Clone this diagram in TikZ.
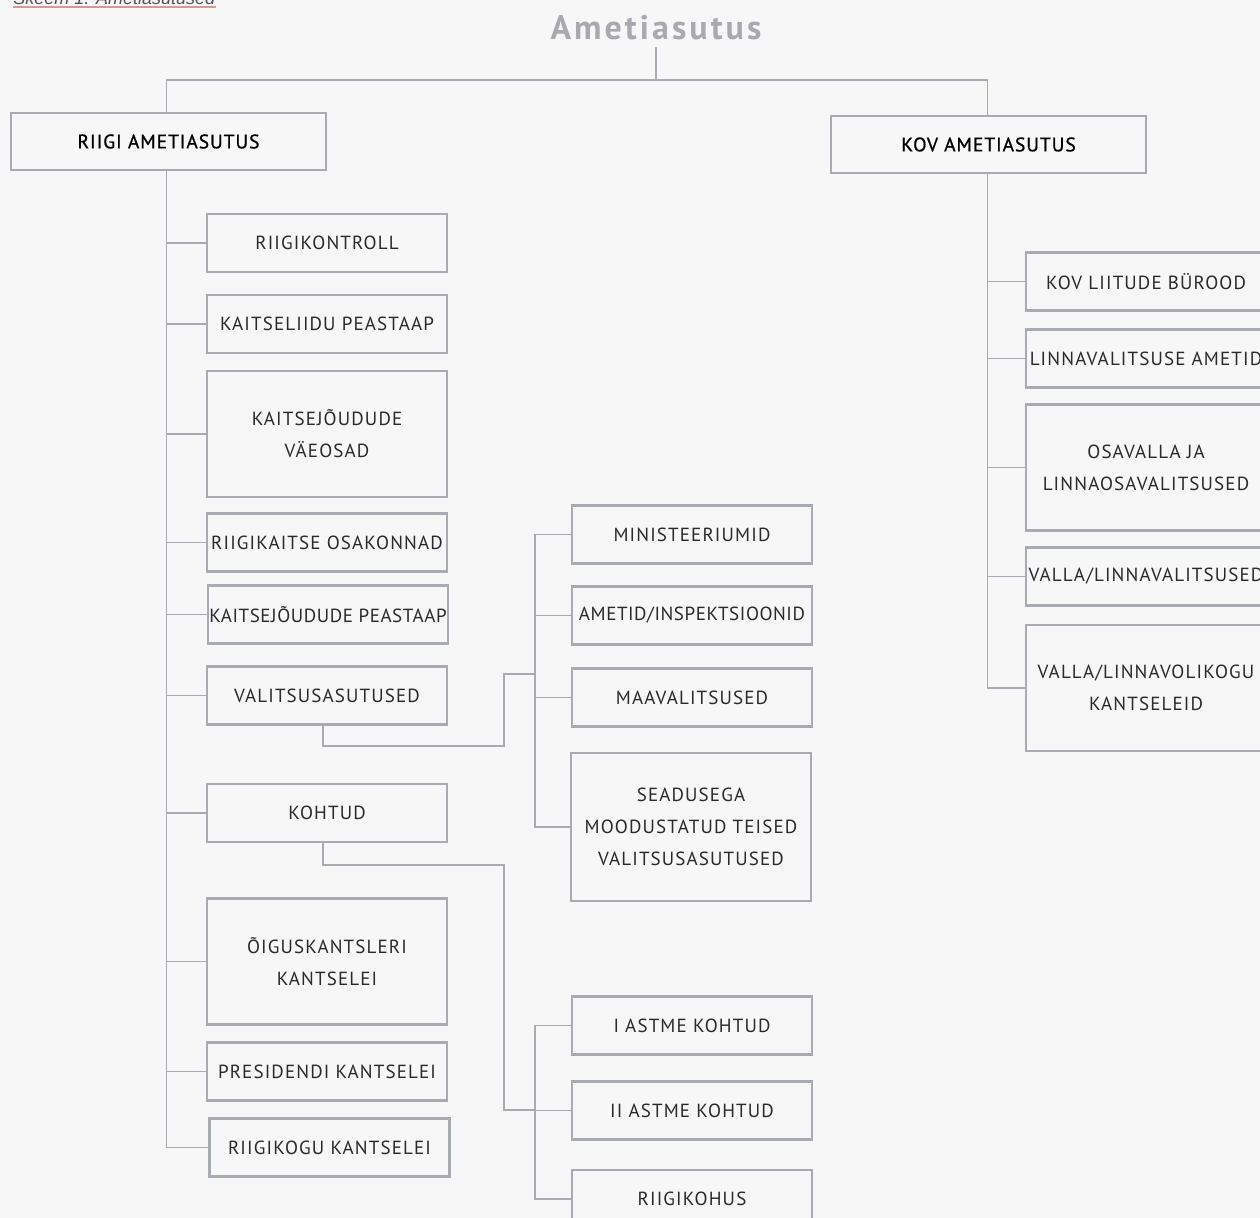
\documentclass[tikz,border=0pt]{standalone}
\usepackage{fontspec}
\setmainfont{PT Sans}
\newfontfamily\boxfont[LetterSpace=6]{PT Sans}
\newfontfamily\boxfontnarrow[LetterSpace=3]{PT Sans}
\newfontfamily\hdfont[LetterSpace=4.5,FakeBold=0.8]{PT Sans}
\newfontfamily\ttlfont[LetterSpace=9]{PT Sans Bold}
\newfontfamily\capfont{Liberation Sans}
\usetikzlibrary{positioning}
\definecolor{orgbg}{HTML}{F7F7F7}
\definecolor{orgline}{HTML}{A9ABB3}
\definecolor{orgink}{HTML}{2A2A2A}
\definecolor{orgtitle}{HTML}{A8AAB0}
\definecolor{orgred}{HTML}{D49A98}
\tikzset{
  bx/.style={draw=orgline, line width=1.3pt, fill=orgbg, minimum width=120pt, minimum height=29pt, inner sep=0pt, align=center, text=orgink, font=\boxfont\fontsize{9.5}{16}\selectfont},
  bxn/.style={bx, font=\boxfontnarrow\fontsize{9.5}{16}\selectfont},
  bxtall/.style={bx, minimum height=63pt},
  hd/.style={bx, minimum width=157.5pt, minimum height=28.5pt, text=black, font=\hdfont\fontsize{9.8}{12}\selectfont},
  ln/.style={draw=orgline, line width=0.8pt},
}

\begin{document}
\begin{tikzpicture}[x=0.5pt, y=-0.5pt]
  \path[use as bounding box, fill=orgbg] (0,0) rectangle (1260,1218);
  \clip (0,0) rectangle (1260,1218);
  % caption, cut at the top edge
  \node[anchor=base west, inner sep=0pt, text=orgink!80, font=\capfont\itshape\fontsize{9}{10}\selectfont] (cap) at (13,5) {Skeem 1. Ametiasutused};
  \draw[orgred, line width=0.8pt] ([yshift=-1pt]cap.base west) -- ([yshift=-1pt]cap.base east);
  \node[text=orgtitle, font=\ttlfont\fontsize{17}{20}\selectfont] (ttl) at (656,28) {Ametiasutus};
  \coordinate (top) at (656,80);
  % two heads
  \node[hd] (riigi) at (168.5,141.5) {RIIGI AMETIASUTUS};
  \node[hd] (kov) at (988.5,144.5) {KOV AMETIASUTUS};
  % riigi branch
  \node[bx] (rk) at (327,243) {RIIGIKONTROLL};
  \node[bx] (klp) at (327,324) {KAITSELIIDU PEASTAAP};
  \node[bxtall] (kjv) at (327,434) {KAITSEJÕUDUDE\\VÄEOSAD};
  \node[bx] (rko) at (327,542.5) {RIIGIKAITSE OSAKONNAD};
  \node[bxn] (kjp) at (328,614.5) {KAITSEJÕUDUDE PEASTAAP};
  \node[bx] (va) at (327,695.5) {VALITSUSASUTUSED};
  \node[bx] (ko) at (327,813) {KOHTUD};
  \node[bxtall] (ok) at (327,961.5) {ÕIGUSKANTSLERI\\KANTSELEI};
  \node[bx] (pk) at (327,1071.5) {PRESIDENDI KANTSELEI};
  \node[bx] (rkk) at (329.5,1147.5) {RIIGIKOGU KANTSELEI};
  % valitsusasutused
  \node[bx] (min) at (692,534.5) {MINISTEERIUMID};
  \node[bxn] (amt) at (692,615.5) {AMETID/INSPEKTSIOONID};
  \node[bx] (maa) at (692,697.5) {MAAVALITSUSED};
  \node[bx, minimum height=74pt] (sea) at (691,827) {SEADUSEGA\\MOODUSTATUD TEISED\\VALITSUSASUTUSED};
  % kohtud
  \node[bx] (ia) at (692,1025.5) {I ASTME KOHTUD};
  \node[bx] (iia) at (692,1110.5) {II ASTME KOHTUD};
  \node[bx] (rkh) at (692,1199) {RIIGIKOHUS};
  % kov branch
  \node[bx] (kl) at (1146,281.5) {KOV LIITUDE BÜROOD};
  \node[bx] (la) at (1146,358.5) {LINNAVALITSUSE AMETID};
  \node[bxtall] (ol) at (1146,467.5) {OSAVALLA JA\\LINNAOSAVALITSUSED};
  \node[bx] (vl) at (1146,576.5) {VALLA/LINNAVALITSUSED};
  \node[bxtall] (vk) at (1146,688) {VALLA/LINNAVOLIKOGU\\KANTSELEID};
  \coordinate (vaj) at (504,746);
  \coordinate (vat) at (535,674);
  \coordinate (koj) at (504,865);
  \coordinate (kot) at (535,1110);
  \draw[ln] (ttl.south) -- (top);
  \draw[ln] ([xshift=-1pt]riigi.north) |- (top) -| ([xshift=-0.5pt]kov.north);
  \foreach \n in {rk,klp,kjv,rko,kjp,va,ko,ok,pk,rkk} \draw[ln] ([xshift=-1pt]riigi.south) |- (\n.west);
  \foreach \n in {kl,la,ol,vl,vk} \draw[ln] ([xshift=-0.5pt]kov.south) |- (\n.west);
  \draw[ln] ([xshift=-2pt]va.south) |- (vaj) |- (vat);
  \foreach \n in {min,amt,maa,sea} \draw[ln] (vat) |- (\n.west);
  \draw[ln] ([xshift=-2pt]ko.south) |- (koj) |- (kot);
  \foreach \n in {ia,iia,rkh} \draw[ln] (kot) |- (\n.west);
\end{tikzpicture}
\end{document}
